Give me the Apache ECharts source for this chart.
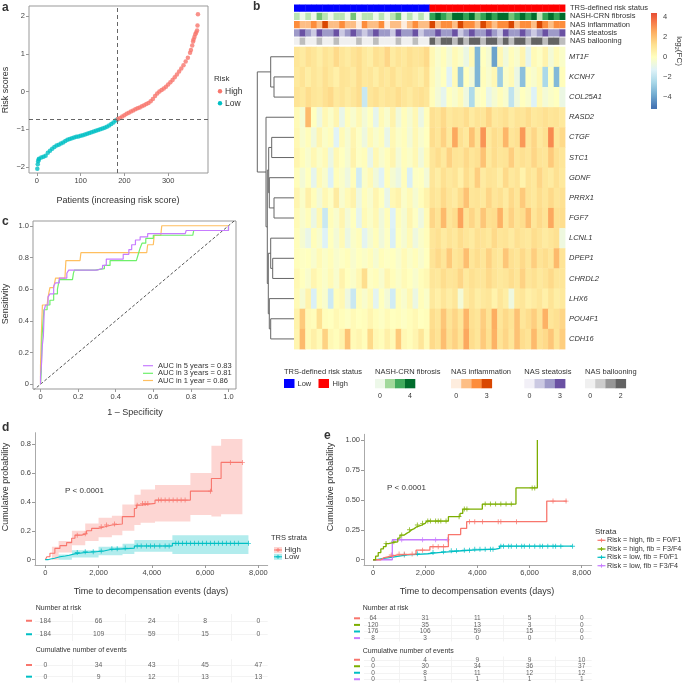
<!DOCTYPE html>
<html><head><meta charset="utf-8">
<script src="https://cdn.jsdelivr.net/npm/echarts@6/dist/echarts.min.js"></script>
<style>html,body{margin:0;padding:0;background:#fff}#c{width:685px;height:685px}</style>
</head><body><div id="c"></div>
<script>
// ================= DATA =================
// Panel a: risk scores (patient index, score)
const riskLow = [[1,-2.05],[2,-1.93],[3,-1.85],[4,-1.8],[5,-1.78],[10,-1.75],[15,-1.73],[20,-1.70],[25,-1.62],[30,-1.57],[35,-1.52],[40,-1.47],[45,-1.43],[50,-1.41],[55,-1.38],[60,-1.35],[65,-1.31],[70,-1.28],[75,-1.26],[80,-1.24],[85,-1.22],[90,-1.20],[95,-1.19],[100,-1.17],[105,-1.16],[110,-1.14],[115,-1.12],[120,-1.10],[125,-1.08],[130,-1.06],[135,-1.04],[140,-1.02],[145,-1.00],[150,-0.98],[155,-0.96],[160,-0.93],[165,-0.90],[170,-0.86],[175,-0.82],[180,-0.77],[184,-0.74]];
const riskHigh = [[185,-0.73],[190,-0.70],[195,-0.66],[200,-0.63],[205,-0.59],[210,-0.56],[215,-0.53],[220,-0.50],[225,-0.47],[230,-0.44],[235,-0.42],[240,-0.39],[245,-0.36],[250,-0.33],[255,-0.30],[260,-0.26],[265,-0.20],[270,-0.12],[275,-0.05],[280,0.00],[285,0.04],[290,0.08],[295,0.13],[300,0.19],[305,0.25],[310,0.31],[315,0.38],[320,0.45],[325,0.53],[330,0.61],[335,0.70],[340,0.80],[345,0.90],[350,1.03],[352,1.10],[355,1.22],[357,1.33],[358,1.38],[360,1.45],[362,1.52],[364,1.57],[366,1.62],[367,1.75],[368,2.05]];
const riskCutScore = -0.73;
const riskCutPatient = 184.5;
const riskXTicks = [0,100,200,300];
const riskYTicks = [-2,-1,0,1,2];

// Panel b: heatmap (15 genes x 48 column groups: 24 low-risk, 24 high-risk)
const genes = ['MT1F','KCNH7','COL25A1','RASD2','CTGF','STC1','GDNF','PRRX1','FGF7','LCNL1','DPEP1','CHRDL2','LHX6','POU4F1','CDH16'];
const heatValues = [
 [1.0,0.8,1.2,1.0,0.7,1.1,0.9,1.4,1.0,0.8,1.1,1.3,0.9,0.7,1.2,1.0,1.5,0.8,1.1,0.9,1.2,1.0,1.1,1.4, 0.3,-0.3,0.1,-0.5,0.2,-0.2,-0.8,0.2,-3.5,0.0,-0.4,-4.0,0.3,-0.6,0.1,-0.3,0.4,-1.0,0.2,-0.1,0.5,-0.5,0.2,-0.2],
 [0.9,1.1,0.7,1.0,0.8,1.2,0.9,0.6,1.1,1.0,0.8,1.3,0.9,1.0,0.7,1.1,0.9,1.2,0.8,1.0,1.1,0.9,0.7,1.2, 0.2,-0.4,0.0,-1.2,0.2,-3.0,0.0,-0.5,-3.5,0.1,-0.3,0.3,-2.8,-0.2,0.2,-0.8,-3.2,0.0,-0.3,0.2,-2.5,0.0,-3.4,0.1],
 [1.1,0.9,1.3,1.0,0.9,1.2,1.4,0.9,1.1,0.8,1.0,1.3,-1.8,1.0,1.2,0.9,1.1,1.0,1.3,1.0,0.8,1.1,1.2,1.0, 0.1,-0.5,-1.0,0.0,-0.3,0.2,-0.7,-2.4,-0.2,0.0,-0.9,-0.4,0.1,-0.3,-2.0,-0.6,0.0,-0.3,-1.3,0.2,-0.5,-0.2,0.0,-0.8],
 [0.2,-0.4,2.2,0.0,-0.7,0.3,-0.2,0.4,-0.9,0.1,-0.3,0.3,-0.5,0.0,-1.0,0.2,-0.3,0.5,-0.6,0.1,-0.4,0.3,-0.8,0.1, 1.2,1.0,1.4,0.9,1.1,1.0,1.3,0.8,1.1,1.0,1.5,0.9,1.0,1.2,0.8,1.1,1.0,1.3,0.9,1.0,1.2,1.0,1.1,0.9],
 [0.3,-0.3,0.1,-0.6,0.4,-0.2,0.1,-1.2,0.2,-0.4,0.4,-0.1,-0.7,0.2,-0.3,0.1,-0.9,0.3,-0.2,0.1,-0.5,0.3,-0.3,0.0, 1.3,1.0,1.6,0.9,2.6,1.2,0.9,2.0,1.1,3.0,0.9,1.3,1.1,2.3,1.0,1.2,2.9,1.0,1.5,0.9,1.2,3.2,1.0,1.4],
 [0.4,0.1,-0.3,0.3,-0.2,0.2,-0.8,0.3,0.0,-0.4,0.5,-0.1,0.1,-0.9,0.3,-0.3,0.1,0.4,-0.5,0.1,-0.2,0.3,-0.6,0.2, 1.0,1.3,0.9,1.6,1.1,1.0,1.4,1.0,1.2,2.0,0.9,1.3,1.0,1.1,1.7,1.0,1.2,1.0,1.5,1.1,1.0,1.8,1.2,1.0],
 [0.1,-0.5,0.0,-1.0,0.2,-0.3,-1.3,0.1,-0.2,-0.7,0.1,-1.6,-0.2,0.2,-0.6,-1.2,0.1,-0.4,-0.8,0.1,-1.4,-0.1,0.0,-0.5, 1.0,0.7,1.2,0.9,1.1,0.6,1.3,0.9,1.7,0.8,1.1,1.0,0.7,1.4,0.9,1.1,0.5,1.1,0.9,1.5,1.0,0.8,1.2,0.9],
 [0.4,-0.2,0.6,0.1,-0.5,0.3,-0.1,0.8,-0.3,0.2,0.5,-0.7,0.1,-0.3,0.4,0.0,-0.9,0.3,0.5,-0.2,0.2,-0.4,0.1,0.5, 1.1,0.9,1.4,1.0,0.8,1.3,2.0,1.0,1.1,0.9,1.5,1.0,1.2,0.8,1.4,1.0,1.8,1.1,0.9,1.3,1.0,1.4,1.0,1.2],
 [0.2,-0.3,0.1,-0.8,0.3,-1.8,0.1,-0.3,0.4,-0.5,0.0,-1.0,0.2,-0.2,0.3,-0.6,0.1,-1.3,0.1,-0.4,0.4,-0.1,-0.7,0.2, 1.5,1.1,2.2,1.0,1.3,2.7,1.1,1.5,1.0,1.9,1.2,1.3,2.4,1.0,1.6,1.1,1.3,2.1,1.0,1.4,1.1,2.6,1.2,1.3],
 [0.1,-0.4,-0.9,0.1,-0.3,-1.3,0.0,-0.5,0.2,-0.8,-0.2,0.1,-1.1,-0.4,0.1,-0.6,-0.1,-1.4,0.0,-0.4,0.2,-0.7,-0.2,0.1, 1.0,1.2,0.8,1.1,0.9,1.3,1.0,0.8,1.2,1.1,0.9,1.4,1.0,1.1,0.8,1.2,1.0,0.9,1.3,1.1,0.8,1.0,1.2,-0.7],
 [0.1,-0.1,0.0,-0.3,0.2,-0.2,0.1,-0.3,-0.1,0.1,-0.3,0.0,-0.2,0.1,-0.4,0.1,-0.1,0.0,-0.3,0.2,-0.2,0.1,-0.3,0.0, 1.1,1.4,1.0,1.8,1.0,1.2,2.1,1.0,1.3,1.0,1.6,1.1,0.9,1.9,1.2,1.0,1.4,1.0,1.7,1.1,1.3,1.0,2.2,1.1],
 [0.3,0.0,-0.3,0.4,0.1,-0.2,0.2,-0.3,0.5,0.0,-0.2,0.3,1.3,-0.1,0.1,-0.3,0.4,0.1,-0.2,0.2,0.0,-0.3,0.1,0.3, 1.0,0.9,1.3,1.0,1.1,1.5,0.9,1.2,1.0,1.0,1.4,1.1,0.9,1.0,1.3,1.0,1.6,1.0,1.2,0.9,1.1,1.4,1.0,1.0],
 [0.2,-0.4,0.5,-1.4,0.1,-0.3,-1.7,0.1,0.3,-0.7,-1.8,0.1,-0.3,0.2,-1.1,0.0,-0.5,-1.6,0.1,-0.3,0.3,-0.8,0.1,-0.2, 0.9,0.6,1.0,0.7,1.0,-0.5,0.8,1.1,0.7,0.9,1.0,0.5,1.0,0.7,-0.7,0.9,1.0,0.6,0.8,1.0,0.6,1.1,0.7,0.9],
 [0.5,1.8,0.2,0.1,1.2,0.1,0.0,0.3,0.1,-0.1,0.2,0.0,0.1,0.4,0.1,-0.1,0.2,0.0,0.1,-0.1,0.1,0.3,0.0,0.1, 1.3,1.0,1.9,1.1,1.5,1.0,2.3,1.2,1.0,1.7,1.1,2.5,1.0,1.4,1.1,2.0,1.0,1.3,1.7,1.1,2.4,1.0,1.2,1.5],
 [0.4,2.2,0.2,0.6,0.2,1.6,0.3,0.1,0.5,2.0,0.2,0.4,0.1,1.4,0.3,0.1,0.6,0.2,1.8,0.3,0.1,0.4,1.0,0.2, 1.4,1.1,2.1,1.2,1.6,1.1,2.6,1.3,1.0,1.8,1.2,2.4,1.1,1.5,1.0,2.0,1.3,1.1,2.2,1.2,1.4,1.9,1.1,1.7]
];
const annNames = ['TRS-defined risk status','NASH-CRN fibrosis','NAS inflammation','NAS steatosis','NAS ballooning'];
const annTRS = [0,0,0,0,0,0,0,0,0,0,0,0,0,0,0,0,0,0,0,0,0,0,0,0, 1,1,1,1,1,1,1,1,1,1,1,1,1,1,1,1,1,1,1,1,1,1,1,1];
const annFibrosis = [1,0,1,0,2,1,0,1,1,0,2,0,1,1,0,1,0,1,2,0,1,0,1,0, 3,4,3,2,4,4,3,4,2,3,4,3,4,4,2,3,4,3,4,1,3,4,3,4];
const annInflammation = [2,1,1,2,1,3,1,1,2,1,1,0,2,1,1,2,0,1,1,0,1,2,1,1, 3,1,2,2,1,3,2,2,1,3,2,1,2,2,3,1,2,2,1,3,2,1,2,2];
const annSteatosis = [2,3,2,1,3,2,2,3,1,2,3,2,1,2,3,2,2,1,3,2,2,3,1,2, 2,3,2,2,3,1,2,3,2,2,3,2,1,3,2,2,3,2,1,2,3,2,2,3];
const annBallooning = [0,1,0,0,1,0,0,1,0,0,0,1,0,0,1,0,0,0,1,0,0,1,0,0, 2,1,2,2,1,2,1,2,2,1,2,2,1,2,1,2,2,1,2,2,1,2,2,1];
// hclust-style merges: negative = leaf (1-based gene index), positive = earlier merge; third = height
const dendroMerges = [[-2,-3,20],[-1,1,23.3],[-5,-6,22.3],[-8,-9,20],[-7,4,24.7],[3,5,25.3],[-11,-12,21.3],[-10,7,23.3],[-14,-15,23.3],[-13,9,24.7],[8,10,25.7],[6,11,26.7],[-4,12,28],[2,13,36.7]];
const colorbarTicks = [-4,-2,0,2,4];

// Panel c: ROC curves [FPR, TPR]
const roc5y = [[0,0],[0,0.05],[0.005,0.12],[0.01,0.25],[0.015,0.3],[0.02,0.47],[0.027,0.5],[0.04,0.55],[0.05,0.57],[0.07,0.62],[0.08,0.64],[0.1,0.67],[0.14,0.7],[0.15,0.72],[0.265,0.72],[0.3,0.73],[0.33,0.75],[0.35,0.79],[0.41,0.79],[0.44,0.82],[0.47,0.85],[0.485,0.88],[0.505,0.91],[0.53,0.93],[0.57,0.95],[0.77,0.95],[0.775,0.97],[0.965,0.97],[1,1]];
const roc3y = [[0,0],[0.004,0.08],[0.008,0.3],[0.018,0.47],[0.035,0.5],[0.05,0.53],[0.07,0.57],[0.09,0.6],[0.1,0.66],[0.17,0.67],[0.175,0.7],[0.18,0.72],[0.29,0.72],[0.3,0.73],[0.34,0.75],[0.37,0.78],[0.51,0.78],[0.52,0.82],[0.53,0.86],[0.54,0.89],[0.56,0.92],[0.6,0.94],[0.81,0.94],[0.815,0.97],[0.965,0.97],[1,1]];
const roc1y = [[0,0],[0,0.12],[0.005,0.33],[0.01,0.5],[0.035,0.5],[0.04,0.55],[0.05,0.61],[0.07,0.62],[0.08,0.67],[0.13,0.67],[0.135,0.78],[0.21,0.78],[0.215,0.83],[0.565,0.83],[0.57,0.88],[0.6,0.88],[0.605,0.94],[0.64,0.94],[0.645,1.0],[0.965,1.0],[1,1]];
const rocLabels = ['AUC in 5 years = 0.83','AUC in 3 years = 0.81','AUC in 1 year = 0.86'];
const rocTicks = [0,0.2,0.4,0.6,0.8,1.0];

// Panel d: cumulative incidence [time (days), probability]
const kmHighD = [[0,0],[60,0.02],[175,0.044],[360,0.078],[550,0.097],[800,0.118],[990,0.148],[1115,0.17],[1365,0.18],[1550,0.2],[1740,0.217],[1990,0.228],[2240,0.24],[2500,0.247],[2893,0.298],[3344,0.355],[3420,0.378],[3580,0.39],[4120,0.413],[5448,0.475],[6237,0.563],[6600,0.674],[7400,0.674]];
const kmHighDLower = [[0,0],[500,0.05],[1000,0.1],[1500,0.13],[2000,0.155],[2500,0.17],[2893,0.2],[3344,0.24],[3580,0.255],[4120,0.265],[5448,0.31],[6237,0.3],[6600,0.314],[7400,0.314]];
const kmHighDUpper = [[0,0],[250,0.09],[500,0.13],[1000,0.2],[1500,0.25],[2000,0.29],[2500,0.305],[2893,0.383],[3344,0.45],[3580,0.487],[4120,0.517],[5448,0.6],[6237,0.79],[6600,0.837],[7400,0.837]];
const kmLowD = [[0,0],[100,0.005],[200,0.01],[350,0.02],[550,0.025],[750,0.03],[900,0.04],[1100,0.05],[1500,0.055],[1900,0.06],[2200,0.07],[2450,0.075],[2900,0.08],[3344,0.095],[4771,0.113],[7627,0.113]];
const kmLowDLower = [[0,0],[1000,0.015],[2000,0.03],[2900,0.04],[3344,0.055],[4771,0.04],[7627,0.04]];
const kmLowDUpper = [[0,0],[500,0.035],[1000,0.065],[2000,0.09],[2900,0.11],[3344,0.136],[4771,0.17],[7627,0.17]];
const censorHighD = [1200,1500,2100,2300,2600,3450,3650,3750,3850,4250,4350,4500,4650,4800,4950,5100,5250,6200,6950,7400];
const censorLowD = [1200,1500,1800,2100,2500,2700,3000,3450,3600,3800,3950,4100,4300,4500,4650,4900,5000,5150,5300,5450,5600,5750,5900,6050,6200,6350,6500,6650,6800,6950,7100,7250,7627];
const tableTimes = [0,2000,4000,6000,8000];
const tableGridTimes = [1000,3000,5000,7000];
const atRiskD = [[184,66,24,8,0],[184,109,59,15,0]];
const eventsD = [[0,34,43,45,47],[0,9,12,13,13]];
const strataD = ['High','Low'];

// Panel e
const strataE = ['Risk = high, fib = F0/F1','Risk = high, fib = F3/F4','Risk = low, fib = F0/F1','Risk = low, fib = F3/F4'];
const kmE_highF01 = [[0,0],[300,0.015],[400,0.025],[600,0.04],[950,0.047],[1650,0.08],[2180,0.109],[2890,0.21],[3360,0.262],[3590,0.318],[6660,0.49],[7430,0.49]];
const kmE_highF34 = [[0,0],[100,0.03],[200,0.06],[300,0.09],[400,0.11],[500,0.135],[600,0.145],[800,0.15],[950,0.18],[1035,0.206],[1200,0.22],[1290,0.234],[1400,0.25],[1480,0.26],[1580,0.275],[1675,0.29],[1865,0.304],[2000,0.315],[2060,0.323],[2890,0.36],[3335,0.387],[3440,0.423],[4190,0.465],[5480,0.6],[6300,1.0]];
const kmE_lowF01 = [[0,0],[150,0.01],[350,0.02],[700,0.03],[1000,0.04],[1300,0.045],[1700,0.05],[2100,0.06],[2500,0.067],[3000,0.075],[3400,0.08],[3800,0.088],[4700,0.095],[4850,0.113],[7650,0.113]];
const kmE_lowF34 = [[0,0],[740,0.167],[2850,0.167]];
const censorE = [
 [700,1000,1200,1500,1900,2300,2500,2700,3700,3900,4200,4800,4900,5500,6900,7400],
 [500,800,1100,1400,1700,1900,2100,2200,2400,2500,2600,2800,3300,3500,3600,4300,4500,4700,4900,5100,5300,6100,6200],
 [1200,1700,2300,2700,3000,3200,3500,3700,3900,4100,4300,4500,4600,4900,5000,5200,5300,5500,5700,5800,6000,6200,6400,6500,6700,6900,7000,7200,7650],
 [1100,1900,2400,2850]
];
const atRiskE = [[64,31,11,5,0],[120,35,13,3,0],[176,106,59,15,0],[8,3,0,0,0]];
const eventsE = [[0,4,9,9,10],[0,30,34,36,37],[0,8,11,12,12],[0,1,1,1,1]];

// ================= STYLE =================
const FONT = '"Liberation Sans", Arial, sans-serif';
const TXT = '#333';
const RED='#f8766d', CYAN='#00bfc4', GREEN='#7cae00', PURPLE='#c77cff';
const ROC_COLORS = ['#c77cff','#6ef06a','#ffbf5f'];
const heatStops = [[-5,'#4575b4'],[-3.75,'#74add1'],[-2.5,'#abd9e9'],[-1.25,'#e0f3f8'],[0,'#ffffbf'],[1.25,'#fee090'],[2.5,'#fdae61'],[3.75,'#f46d43'],[5,'#d73027']];
const annPalettes = [
  ['#0000ff','#ff0000'],
  ['#edf8e9','#bae4b3','#74c476','#31a354','#006d2c'],
  ['#feedde','#fdbe85','#fd8d3c','#d94701'],
  ['#f2f0f7','#cbc9e2','#9e9ac8','#6a51a3'],
  ['#f0f0f0','#bdbdbd','#636363']
];
const annLegendPal = [
  ['#edf8e9','#a1d99b','#41ab5d','#006d2c'],
  ['#feedde','#fdbe85','#fd8d3c','#d94701'],
  ['#f2f0f7','#cbc9e2','#9e9ac8','#6a51a3'],
  ['#f0f0f0','#cccccc','#969696','#636363']
];

function hex2rgb(h){h=h.replace('#','');return [parseInt(h.slice(0,2),16),parseInt(h.slice(2,4),16),parseInt(h.slice(4,6),16)];}
function heatColor(v){
  if(v<=heatStops[0][0]) return heatStops[0][1];
  for(let i=1;i<heatStops.length;i++){
    if(v<=heatStops[i][0]){
      const [v0,c0]=heatStops[i-1],[v1,c1]=heatStops[i];
      const t=(v-v0)/(v1-v0), a=hex2rgb(c0), b=hex2rgb(c1);
      return 'rgb('+a.map((x,k)=>Math.round(x+(b[k]-x)*t)).join(',')+')';
    }
  }
  return heatStops[heatStops.length-1][1];
}
function stepPts(c){const o=[];c.forEach((p,i)=>{if(i>0)o.push([p[0],c[i-1][1]]);o.push(p);});return o;}
function stepVal(c,t){let v=0;for(const p of c){if(p[0]<=t)v=p[1];}return v;}
const PLUS='path://M-0.18,-1H0.18V-0.18H1V0.18H0.18V1H-0.18V0.18H-1V-0.18H-0.18Z';

// ================= BUILD =================
const xAxis=[], yAxis=[], series=[];
function tickAxis(type, gi, min, max, ticks, fmt, extra){
  return Object.assign({type:'value', gridIndex:gi, min:min, max:max,
    axisLine:{show:false,onZero:false}, splitLine:{show:false},
    axisTick:{show:true, length:3, lineStyle:{color:'#999'}, customValues:ticks},
    axisLabel:{customValues:ticks, formatter:fmt, fontSize:7.5, color:'#444', margin:4, fontFamily:FONT}
  }, extra||{});
}
function hidden(gi,min,max,extra){return Object.assign({type:'value',gridIndex:gi,min:min,max:max,show:false,axisLine:{onZero:false},splitLine:{show:false}},extra||{});}
const minus = v => (v<0?'\u2212'+Math.abs(v):String(v));
const fmt1 = v => v===0?'0':v.toFixed(1);
const fmtK = v => v===0?'0':v.toLocaleString('en-US');

// grid 0: panel a
xAxis.push(tickAxis('x',0,-18,391,riskXTicks,String));
yAxis.push(tickAxis('y',0,-2.16,2.27,riskYTicks,minus));
// grid 1: annotation
xAxis.push(hidden(1,0,48));
yAxis.push(hidden(1,0,5,{inverse:true}));
// grid 2: heatmap
xAxis.push(hidden(2,0,48));
yAxis.push(hidden(2,0,15,{inverse:true}));
// grid 3: dendrogram
xAxis.push(hidden(3,0,37,{inverse:true}));
yAxis.push(hidden(3,0,15,{inverse:true}));
// grid 4: colorbar
xAxis.push(hidden(4,0,1));
yAxis.push({type:'value',gridIndex:4,min:-5.2,max:4.4,position:'right',axisLine:{show:false,onZero:false},splitLine:{show:false},
  axisTick:{show:false,customValues:colorbarTicks},
  axisLabel:{customValues:colorbarTicks,formatter:minus,fontSize:7.5,color:'#444',margin:6,fontFamily:FONT}});
// grid 5: panel c
xAxis.push(tickAxis('x',5,-0.04,1.04,rocTicks,fmt1));
yAxis.push(tickAxis('y',5,-0.03,1.03,rocTicks,fmt1));
// grid 6: panel d
const axLine={show:true,onZero:false,lineStyle:{color:'#aaa',width:1}};
xAxis.push(tickAxis('x',6,-386,8350,tableTimes,fmtK,{axisLine:axLine}));
yAxis.push(tickAxis('y',6,-0.037,0.88,[0,0.2,0.4,0.6,0.8],fmt1,{axisLine:axLine}));
// grids 7,8: d tables
function tableY(gi,cats,colors,margin){
  const rich={};cats.forEach((c,i)=>{rich['r'+i]={width:6,height:2,lineHeight:2,backgroundColor:colors[i]};});
  return {type:'category',gridIndex:gi,data:cats,inverse:true,axisLine:{show:false,onZero:false},axisTick:{show:false},splitLine:{show:false},
    axisLabel:{interval:0,margin:margin,formatter:(v)=>'{r'+cats.indexOf(v)+'| }',rich:rich}};
}
xAxis.push(hidden(7,-386,8350)); yAxis.push(tableY(7,strataD,[RED,CYAN],3));
xAxis.push(hidden(8,-386,8350)); yAxis.push(tableY(8,strataD,[RED,CYAN],3));
// grid 9: panel e
xAxis.push(tickAxis('x',9,-345,8383,tableTimes,fmtK,{axisLine:axLine}));
yAxis.push(tickAxis('y',9,-0.044,1.048,[0,0.25,0.5,0.75,1],v=>v===0?'0':v.toFixed(2),{axisLine:axLine}));
const E_COLORS=[RED,GREEN,CYAN,PURPLE];
xAxis.push(hidden(10,-345,8383)); yAxis.push(tableY(10,strataE,E_COLORS,4));
xAxis.push(hidden(11,-345,8383)); yAxis.push(tableY(11,strataE,E_COLORS,4));
// label axes for heatmap (index 12, 13)
yAxis.push({type:'category',gridIndex:1,data:annNames,inverse:true,position:'right',axisLine:{show:false},axisTick:{show:false},
  axisLabel:{interval:0,fontSize:7.5,color:TXT,margin:5,fontFamily:FONT}});
yAxis.push({type:'category',gridIndex:2,data:genes,inverse:true,position:'right',axisLine:{show:false},axisTick:{show:false},
  axisLabel:{interval:0,fontSize:7.5,color:TXT,margin:4,fontStyle:'italic',fontFamily:FONT}});

// ---- series: panel a
series.push({type:'scatter',xAxisIndex:0,yAxisIndex:0,data:riskLow,symbolSize:4.5,itemStyle:{color:CYAN},
  markLine:{silent:true,symbol:'none',label:{show:false},lineStyle:{color:'#666',type:[4,3],width:1},
    data:[{xAxis:riskCutPatient},{yAxis:riskCutScore}]}});
series.push({type:'scatter',xAxisIndex:0,yAxisIndex:0,data:riskHigh,symbolSize:4.5,itemStyle:{color:RED}});

// ---- panel b: annotation cells
const annRows=[annTRS,annFibrosis,annInflammation,annSteatosis,annBallooning];
const annData=[];annRows.forEach((r,ri)=>r.forEach((v,ci)=>annData.push([ci,ri,v])));
series.push({type:'custom',xAxisIndex:1,yAxisIndex:1,data:annData,renderItem:(p,api)=>{
  const c=api.value(0),r=api.value(1),v=api.value(2);
  const p1=api.coord([c,r]),p2=api.coord([c+1,r+1]);
  return {type:'rect',shape:{x:p1[0],y:p1[1]+0.5,width:p2[0]-p1[0]+0.4,height:p2[1]-p1[1]-1},style:{fill:annPalettes[r][v]}};
}});
const heatData=[];heatValues.forEach((r,ri)=>r.forEach((v,ci)=>heatData.push([ci,ri,v])));
series.push({type:'custom',xAxisIndex:2,yAxisIndex:2,data:heatData,renderItem:(p,api)=>{
  const c=api.value(0),r=api.value(1),v=api.value(2);
  const p1=api.coord([c,r]),p2=api.coord([c+1,r+1]);
  return {type:'rect',shape:{x:p1[0],y:p1[1],width:p2[0]-p1[0]+0.4,height:p2[1]-p1[1]+0.4},style:{fill:heatColor(v)}};
}});
// dendrogram
const nodes=[];
function nodeOf(ref){ if(ref<0) return {y:-ref-1+0.5,h:0}; return nodes[ref-1]; }
const dendroLines=[];
dendroMerges.forEach(m=>{
  const a=nodeOf(m[0]),b=nodeOf(m[1]),h=m[2];
  dendroLines.push({coords:[[a.h,a.y],[h,a.y],[h,b.y],[b.h,b.y]]});
  nodes.push({y:(a.y+b.y)/2,h:h});
});
series.push({type:'lines',coordinateSystem:'cartesian2d',xAxisIndex:3,yAxisIndex:3,polyline:true,data:dendroLines,
  lineStyle:{color:'#666',width:1,opacity:1}});
// colorbar
series.push({type:'custom',xAxisIndex:4,yAxisIndex:4,data:[[0,0]],renderItem:(p,api)=>{
  const p1=api.coord([0,4.4]),p2=api.coord([1,-5.2]);
  const stops=[{offset:0,color:heatColor(4.4)}];
  heatStops.forEach(s=>{if(s[0]<4.4&&s[0]>-5.2)stops.push({offset:(4.4-s[0])/9.6,color:s[1]});});
  stops.push({offset:1,color:heatColor(-5.2)});
  stops.sort((a,b)=>a.offset-b.offset);
  return {type:'rect',shape:{x:p1[0],y:p1[1],width:p2[0]-p1[0],height:p2[1]-p1[1]},
    style:{fill:{type:'linear',x:0,y:0,x2:0,y2:1,colorStops:stops}}};
}});

// ---- panel c
series.push({type:'line',xAxisIndex:5,yAxisIndex:5,data:[[-0.04,-0.04],[1.04,1.04]],symbol:'none',
  lineStyle:{color:'#555',type:[3,2],width:1},z:1});
[roc5y,roc3y,roc1y].slice().reverse().forEach((d,i)=>{
  const idx=2-i;
  series.push({type:'line',xAxisIndex:5,yAxisIndex:5,data:d,step:'end',symbol:'none',lineStyle:{color:ROC_COLORS[idx],width:1.2}});
});

// ---- KM helpers
function band(xi,yi,lower,upper,color){
  const poly=stepPts(upper).concat(stepPts(lower).reverse());
  series.push({type:'custom',xAxisIndex:xi,yAxisIndex:yi,data:[[0,0]],renderItem:(p,api)=>({
    type:'polygon',shape:{points:poly.map(q=>api.coord(q))},style:{fill:color,opacity:0.3}})});
}
function km(xi,yi,curve,color,censor,w){
  series.push({type:'line',xAxisIndex:xi,yAxisIndex:yi,data:curve,step:'end',symbol:'none',lineStyle:{color:color,width:w||1.1}});
  series.push({type:'scatter',xAxisIndex:xi,yAxisIndex:yi,data:censor.map(t=>[t,stepVal(curve,t)]),symbol:PLUS,symbolSize:5,itemStyle:{color:color}});
}
band(6,6,kmHighDLower,kmHighDUpper,RED);
band(6,6,kmLowDLower,kmLowDUpper,CYAN);
km(6,6,kmHighD,RED,censorHighD);
km(6,6,kmLowD,CYAN,censorLowD);
[kmE_lowF01,kmE_lowF34,kmE_highF01,kmE_highF34].forEach((c,i)=>{
  const map=[2,3,0,1][i];
  km(9,9,c,E_COLORS[map],censorE[map],1.3);
});

// ---- tables: faint grid (behind), then numbers
function table(gi,rows,fs){
  const data=[];rows.forEach((r,ri)=>r.forEach((v,ci)=>data.push([tableTimes[ci],ri,v])));
  const ml=tableGridTimes.map(v=>({xAxis:v}));
  rows.forEach((r,ri)=>ml.push({yAxis:ri}));
  series.push({type:'scatter',xAxisIndex:gi,yAxisIndex:gi,data:[],z:1,
    markLine:{silent:true,symbol:'none',label:{show:false},lineStyle:{color:'#f0f0f0',width:0.8,type:'solid'},data:ml}});
  series.push({type:'scatter',xAxisIndex:gi,yAxisIndex:gi,data:data,symbolSize:1,itemStyle:{color:'rgba(0,0,0,0)'},
    label:{show:true,position:'inside',formatter:p=>String(p.value[2]),fontSize:fs,color:'#3a3a3a',fontFamily:FONT},
    labelLayout:{hideOverlap:false},z:10});
}
table(7,atRiskD,6.8); table(8,eventsD,6.8); table(10,atRiskE,6.5); table(11,eventsE,6.5);

// ================= GRAPHIC TEXT / LEGENDS =================
const G=[];
function T(x,y,s,o){o=o||{};G.push({type:'text',x:x,y:y,rotation:o.rot||0,z:100,
  style:{text:s,fill:o.fill||TXT,font:(o.it?'italic ':'normal ')+(o.bold?'bold ':'normal ')+(o.size||8)+'px '+FONT,
  align:o.align||'left',verticalAlign:o.va||'middle'}});}
function R(x,y,w,h,fill,op){G.push({type:'rect',z:100,shape:{x:x,y:y,width:w,height:h},style:{fill:fill,opacity:op==null?1:op}});}
function L(x1,y1,x2,y2,stroke,w,dash){G.push({type:'line',z:100,shape:{x1:x1,y1:y1,x2:x2,y2:y2},style:{stroke:stroke,lineWidth:w||1,lineDash:dash||null}});}
function C(cx,cy,r,fill){G.push({type:'circle',z:100,shape:{cx:cx,cy:cy,r:r},style:{fill:fill}});}
function plus(cx,cy,s,col){L(cx-s,cy,cx+s,cy,col,0.9);L(cx,cy-s,cx,cy+s,col,0.9);}

// panel letters
T(2,8,'a',{bold:true,size:12}); T(253,7,'b',{bold:true,size:12}); T(2,222,'c',{bold:true,size:12});
T(2,428,'d',{bold:true,size:12}); T(324,436,'e',{bold:true,size:12});
// panel a
T(6,90,'Risk scores',{rot:Math.PI/2,align:'center',size:9});
T(118,201,'Patients (increasing risk score)',{align:'center',size:9});
T(214,79,'Risk',{size:8}); C(220,91.3,2.2,RED); T(225,91.3,'High',{size:8.5}); C(220,103.3,2.2,CYAN); T(225,103.3,'Low',{size:8.5});
// panel b colorbar title
G.push({type:'text',x:679,y:51,rotation:-Math.PI/2,z:100,style:{text:'{a|log}{b|2}{a|(FC)}',align:'center',verticalAlign:'middle',
  rich:{a:{font:'8px '+FONT,fill:TXT,lineHeight:11},b:{font:'5.5px '+FONT,fill:TXT,lineHeight:11,verticalAlign:'bottom'}}}});
// panel b legend
T(284,372,'TRS-defined risk status',{size:7.5});
R(284,379,10.5,9,'#0000ff'); T(297.5,383.5,'Low',{size:7.5});
R(318.5,379,10.5,9,'#ff0000'); T(332.5,383.5,'High',{size:7.5});
const legX=[375,451,524.3,585], legW=[10,10.2,10.2,10.2], legNames=['NASH-CRN fibrosis','NAS inflammation','NAS steatosis','NAS ballooning'], legMax=['4','3','3','2'];
legX.forEach((x,i)=>{
  T(x,372,legNames[i],{size:7.5});
  annLegendPal[i].forEach((c,k)=>R(x+k*legW[i],379,legW[i]+0.3,9.3,c));
  T(x+legW[i]/2,396,'0',{size:7,align:'center'}); T(x+legW[i]*3.5,396,legMax[i],{size:7,align:'center'});
});
// panel c
T(6,304,'Sensitivity',{rot:Math.PI/2,align:'center',size:9});
T(135,413,'1 \u2013 Specificity',{align:'center',size:9});
rocLabels.forEach((s,i)=>{const y=[365.7,373.3,380.5][i];L(143,y,153,y,ROC_COLORS[i],1.2);T(158,y,s,{size:7.5});});
// panel d
T(6,487,'Cumulative probability',{rot:Math.PI/2,align:'center',size:9});
T(151,592,'Time to decompensation events (days)',{align:'center',size:9});
T(65,491,'P < 0.0001',{size:8});
T(271,538,'TRS strata',{size:7.5});
[[RED,'High',550],[CYAN,'Low',556.8]].forEach(([c,s,y])=>{R(274,y-3,8,6,c,0.3);L(274,y,282,y,c,1);plus(278,y,2,c);T(284.5,y,s,{size:8});});
T(35.7,608,'Number at risk',{size:7});
T(35.7,650,'Cumulative number of events',{size:7});
// panel e
T(331,487,'Cumulative probability',{rot:Math.PI/2,align:'center',size:9});
T(477,592,'Time to decompensation events (days)',{align:'center',size:9});
T(387,488,'P < 0.0001',{size:8});
T(595,532,'Strata',{size:8});
strataE.forEach((s,i)=>{const y=[540.3,549,557.3,565.7][i];L(597.5,y,605.5,y,E_COLORS[i],1.2);plus(601.5,y,2,E_COLORS[i]);T(607,y,s,{size:7.2});});
T(362.7,608,'Number at risk',{size:7});
T(362.7,650.7,'Cumulative number of events',{size:7});

const option={
  animation:false,
  backgroundColor:'#fff',
  textStyle:{fontFamily:FONT},
  grid:[
    {left:29,top:6,width:179,height:167,show:true,borderColor:'#999',borderWidth:1},
    {left:294,top:4,width:271,height:41.3},
    {left:294,top:46.7,width:271,height:302.3},
    {left:257,top:46.7,width:37,height:302.3},
    {left:651,top:13,width:6,height:96},
    {left:33,top:221,width:203,height:168,show:true,borderColor:'#999',borderWidth:1},
    {left:35,top:432.7,width:232.7,height:132.3},
    {left:35,top:614,width:232.7,height:27},
    {left:35,top:659.2,width:232.7,height:23.3},
    {left:364,top:434.3,width:227.7,height:130.7},
    {left:364,top:615,width:227.7,height:26.4},
    {left:364,top:656.5,width:227.7,height:28}
  ],
  xAxis:xAxis, yAxis:yAxis, series:series, graphic:{elements:G}
};
const chart=echarts.init(document.getElementById('c'),null,{renderer:'canvas'});
chart.setOption(option);
</script></body></html>
